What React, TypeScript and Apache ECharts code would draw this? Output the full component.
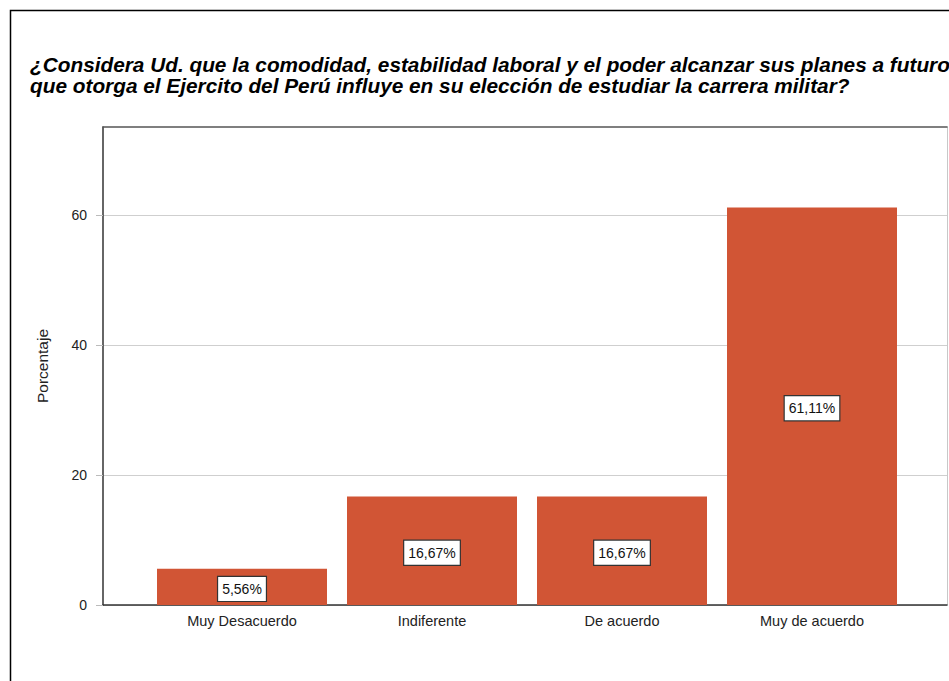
import React, { useEffect, useRef } from "react";
import * as echarts from "echarts";

const titleLines = [
  "¿Considera Ud. que la comodidad, estabilidad laboral y el poder alcanzar sus planes a futuro",
  "que otorga el Ejercito del Perú influye en su elección de estudiar la carrera militar?",
];
const categories = ["Muy Desacuerdo", "Indiferente", "De acuerdo", "Muy de acuerdo"];
const percentages = [5.56, 16.67, 16.67, 61.11];
const yTicks = [0, 20, 40, 60];
const yMax = 73.5;
const yAxisName = "Porcentaje";

const FONT = "'Liberation Sans', Arial, sans-serif";

export default function App() {
  const ref = useRef<HTMLDivElement>(null);
  useEffect(() => {
    if (!ref.current) return;
    const chart = echarts.init(ref.current, null, { renderer: "svg" });
    chart.setOption({
      animation: false,
      backgroundColor: "#ffffff",
      title: {
        text: titleLines.join("\n"),
        left: 25,
        top: 49,
        textStyle: {
          fontFamily: FONT,
          fontSize: 20.8,
          fontWeight: "bold",
          fontStyle: "italic",
          color: "#000",
          lineHeight: 21,
        },
      },
      graphic: [
        {
          type: "rect",
          shape: { x: 10.5, y: 10.5, width: 1200, height: 1200 },
          style: { fill: "none", stroke: "#000", lineWidth: 1.5 },
          silent: true,
          z: 100,
        },
      ],
      grid: [
        { left: 103, top: 127, width: 844, height: 478 },
        { left: 147, top: 127, width: 760, height: 478 },
      ],
      xAxis: [
        {
          type: "value",
          gridIndex: 0,
          position: "bottom",
          min: 0,
          max: 1,
          axisLine: { show: true, onZero: false, lineStyle: { color: "#333", width: 1.5 } },
          axisTick: { show: false },
          axisLabel: { show: false },
          splitLine: { show: false },
        },
        {
          type: "value",
          gridIndex: 0,
          position: "top",
          min: 0,
          max: 1,
          axisLine: { show: true, onZero: false, lineStyle: { color: "#555", width: 1.5 } },
          axisTick: { show: false },
          axisLabel: { show: false },
          splitLine: { show: false },
        },
        {
          type: "category",
          gridIndex: 1,
          data: categories,
          axisLine: { show: false },
          axisTick: { show: false },
          axisLabel: {
            margin: 8,
            fontFamily: FONT,
            fontSize: 14.5,
            color: "#222",
          },
        },
      ],
      yAxis: [
        {
          type: "value",
          gridIndex: 0,
          position: "left",
          min: 0,
          max: yMax,
          name: yAxisName,
          nameLocation: "middle",
          nameRotate: 90,
          nameGap: 53,
          nameTextStyle: { fontFamily: FONT, fontSize: 15.5, color: "#222" },
          axisLine: { show: true, onZero: false, lineStyle: { color: "#333", width: 1.5 } },
          axisTick: {
            show: true,
            length: 7,
            customValues: yTicks,
            lineStyle: { color: "#bbb" },
          },
          axisLabel: {
            customValues: yTicks,
            margin: 16,
            fontFamily: FONT,
            fontSize: 14,
            color: "#222",
          },
          splitLine: { show: true, lineStyle: { color: "#cfcfcf", width: 1 } },
        },
        {
          type: "value",
          gridIndex: 0,
          position: "right",
          min: 0,
          max: yMax,
          axisLine: { show: true, onZero: false, lineStyle: { color: "#c8c8c8", width: 1 } },
          axisTick: { show: false },
          axisLabel: { show: false },
          splitLine: { show: false },
        },
        {
          type: "value",
          gridIndex: 1,
          min: 0,
          max: yMax,
          show: false,
          splitLine: { show: false },
        },
      ],
      series: [
        {
          type: "bar",
          xAxisIndex: 2,
          yAxisIndex: 2,
          data: percentages,
          barWidth: 170,
          itemStyle: { color: "#d15535" },
          label: {
            show: true,
            position: "inside",
            offset: [0, 2],
            formatter: (p: any) => p.value.toFixed(2).replace(".", ",") + "%",
            fontFamily: FONT,
            fontSize: 14,
            lineHeight: 16,
            color: "#111",
            backgroundColor: "#fff",
            borderColor: "#333",
            borderWidth: 1.2,
            padding: [4, 4, 4, 4],
          },
        },
      ],
    });
    return () => chart.dispose();
  }, []);
  return (
    <div
      ref={ref}
      style={{ position: "fixed", left: 0, top: 0, width: 949, height: 681 }}
    />
  );
}
